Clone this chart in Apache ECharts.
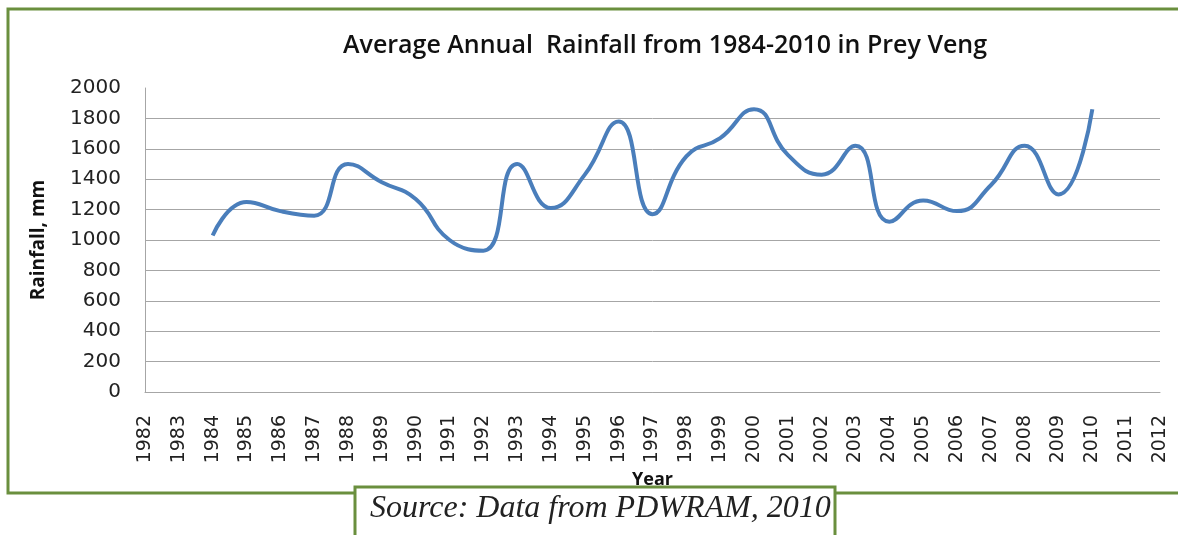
<!DOCTYPE html>
<html>
<head>
<meta charset="utf-8">
<title>Average Annual Rainfall - Prey Veng</title>
<script src="https://cdn.jsdelivr.net/npm/echarts@6/dist/echarts.min.js"></script>
<style>
    html, body { margin: 0; padding: 0; background: #fff; }
    #main { width: 1178px; height: 535px; }
</style>
</head>
<body>
<div id="main"></div>
<script>
// years on the x axis (1982-2012), data only for 1984-2010
var years = ['1982','1983','1984','1985','1986','1987','1988','1989','1990','1991',
             '1992','1993','1994','1995','1996','1997','1998','1999','2000','2001',
             '2002','2003','2004','2005','2006','2007','2008','2009','2010','2011','2012'];

// average annual rainfall, mm
var rainfall = [null, null,
    1030, 1250, 1190, 1160, 1500, 1380, 1270, 1000,
    930, 1500, 1210, 1430, 1780, 1170, 1550, 1670, 1860, 1560,
    1430, 1620, 1120, 1260, 1190, 1360, 1620, 1300, 1860,
    null, null];

var titleText = 'Average Annual  Rainfall from 1984-2010 in Prey Veng';
var sourceText = 'Source: Data from PDWRAM, 2010';

var frameGreen = '#6a8f3e';
var gridGray = '#a6a6a6';

var myChart = echarts.init(document.getElementById('main'));

var option = {
    backgroundColor: '#fff',
    animation: false,
    title: {
        text: titleText,
        left: 338,
        top: 28,
        textStyle: {
            fontFamily: 'Open Sans',
            fontSize: 25,
            fontWeight: 600,
            color: '#111'
        }
    },
    grid: {
        left: 145,
        right: 18,
        top: 88,
        bottom: 143
    },
    xAxis: {
        type: 'category',
        data: years,
        boundaryGap: false,
        name: 'Year',
        nameLocation: 'middle',
        nameGap: 75,
        nameTextStyle: {
            fontFamily: 'Open Sans',
            fontWeight: 'bold',
            fontSize: 18,
            color: '#111'
        },
        axisLine: { lineStyle: { color: gridGray, width: 1 } },
        axisTick: { show: false },
        axisLabel: {
            rotate: 90,
            interval: 0,
            margin: 23,
            fontFamily: 'DejaVu Sans',
            fontSize: 19,
            color: '#222'
        },
        splitLine: { show: false }
    },
    yAxis: {
        type: 'value',
        min: 0,
        max: 2000,
        interval: 200,
        name: 'Rainfall, mm',
        nameLocation: 'middle',
        nameGap: 97,
        nameTextStyle: {
            fontFamily: 'Open Sans',
            fontWeight: 'bold',
            fontSize: 19,
            color: '#111'
        },
        axisLine: { show: true, lineStyle: { color: gridGray, width: 1 } },
        axisTick: { show: false },
        axisLabel: {
            margin: 24,
            fontFamily: 'DejaVu Sans',
            fontSize: 20,
            color: '#222',
            formatter: function (v) { return String(v); }
        },
        splitLine: {
            show: true,
            showMaxLine: false,
            lineStyle: { color: gridGray, width: 1 }
        }
    },
    series: [
        {
            name: 'Rainfall',
            type: 'line',
            data: rainfall,
            smooth: 0.5,
            showSymbol: false,
            connectNulls: false,
            lineStyle: { color: '#4a7ebb', width: 4 },
            itemStyle: { color: '#4a7ebb' }
        }
    ],
    graphic: [
        // outer frame (no right edge in the picture)
        {
            type: 'polyline',
            z: 10,
            shape: { points: [[1178, 9], [8, 9], [8, 493], [1178, 493]] },
            style: { stroke: frameGreen, lineWidth: 3, fill: null }
        },
        // source box, covers the frame's bottom line
        {
            type: 'rect',
            z: 20,
            shape: { x: 355, y: 487, width: 480, height: 60 },
            style: { fill: '#fff', stroke: frameGreen, lineWidth: 3 }
        },
        {
            type: 'text',
            z: 21,
            left: 370,
            top: 493,
            style: {
                text: sourceText,
                fontFamily: 'Liberation Serif',
                fontStyle: 'italic',
                fontSize: 32,
                fill: '#222'
            }
        }
    ]
};

myChart.setOption(option);
</script>
</body>
</html>
